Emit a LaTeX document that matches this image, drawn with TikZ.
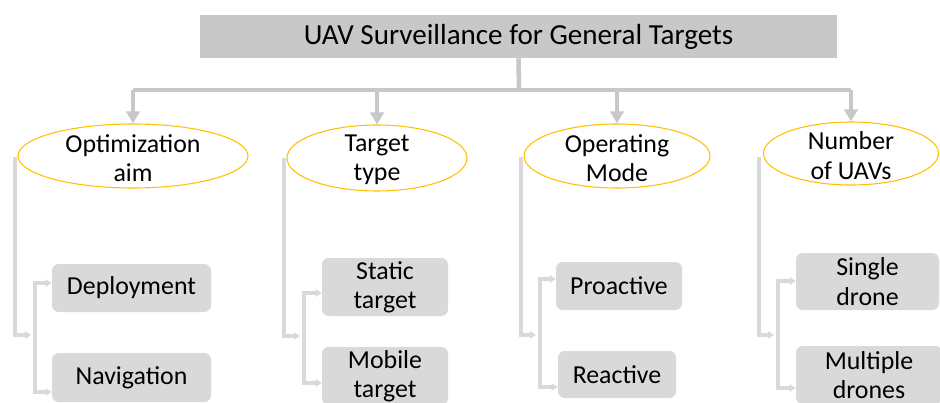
\documentclass[tikz,border=0pt]{standalone}
\usepackage{fontspec}
\setmainfont{Carlito}
\usetikzlibrary{shapes.geometric,arrows.meta}
\definecolor{topgray}{HTML}{C8C8C8}
\definecolor{boxgray}{HTML}{D9D9D9}
\definecolor{gold}{HTML}{FFC000}
\newcommand\pxu{0.75pt}
\begin{document}
\begin{tikzpicture}[x=0.75pt,y=-0.75pt,
 titlebox/.style={rectangle, fill=topgray, minimum width=637*\pxu, minimum height=43*\pxu, inner sep=0, font=\fontsize{21.8}{26}\selectfont},
 ell/.style={ellipse, draw=gold, line width=0.8pt, fill=white, inner sep=0},
 ellt/.style={align=center, font=\fontsize{19.4}{22}\selectfont, inner sep=0, yshift=-1.5pt},
 leaf/.style={rectangle, rounded corners=5pt, fill=boxgray, inner sep=0, align=center, font=\fontsize{19.4}{22}\selectfont},
 topline/.style={draw=topgray, line width=3.4pt},
 toparrow/.style={topline, -{Triangle[width=10pt,length=9pt]}},
 subline/.style={draw=boxgray, line width=3pt},
 subarrow/.style={subline, -{Triangle[width=5.5pt,length=4.5pt]}},
]
\useasboundingbox (0,0) rectangle (940,403);

% title
\node[titlebox] (t) at (518.5,36.5) {UAV Surveillance for General Targets};

% ellipses
\node[ell, minimum width=230*\pxu, minimum height=64*\pxu] (e1) at (133,156) {};
\node[ell, minimum width=180*\pxu, minimum height=66*\pxu] (e2) at (377,158) {};
\node[ell, minimum width=186*\pxu, minimum height=64*\pxu] (e3) at (617,156) {};
\node[ell, minimum width=175*\pxu, minimum height=63*\pxu] (e4) at (851,153.5) {};
\node[ellt] (l1) at (e1) {Optimization\\aim};
\node[ellt] (l2) at (e2) {Target\\type};
\node[ellt] (l3) at (e3) {Operating\\Mode};
\node[ellt] (l4) at (e4) {Number\\of UAVs};

% leaves
\node[leaf, minimum width=159*\pxu, minimum height=48*\pxu] (hi1) at (131.5,288) {Deployment};
\node[leaf, minimum width=159*\pxu, minimum height=49*\pxu] (lo1) at (131.5,377.5) {Navigation};
\node[leaf, minimum width=126*\pxu, minimum height=58*\pxu] (hi2) at (385,287) {Static\\target};
\node[leaf, minimum width=126*\pxu, minimum height=58*\pxu] (lo2) at (385,376) {Mobile\\target};
\node[leaf, minimum width=126*\pxu, minimum height=48*\pxu] (hi3) at (619,286) {Proactive};
\node[leaf, minimum width=118*\pxu, minimum height=47*\pxu] (lo3) at (617,374.5) {Reactive};
\node[leaf, minimum width=143*\pxu, minimum height=57*\pxu] (hi4) at (867.5,281.5) {Single\\drone};
\node[leaf, minimum width=146*\pxu, minimum height=58*\pxu] (lo4) at (869,375) {Multiple\\drones};

% top connectors
\coordinate (hj) at (519,90);
\draw[topline] (t.south) -- (hj);
\draw[topline] (e1.north |- hj) -- (e4.north |- hj);
\foreach \e in {e1,e2,e3,e4}{
  \draw[toparrow] (\e.north |- hj) -- (\e.north);
}

% sub connectors
\foreach \i/\sx/\sy/\ty/\tx/\bx/\ya/\yb in {1/15/157/335/31/35/283/392, 2/284/158/336/300/304/293/383, 3/521/157/335/536/540/279/387, 4/759/157/335/774/778/281/388}{
  \coordinate (s\i) at (\sx,\sy);
  \coordinate (k\i) at (\tx,\ty);
  \coordinate (j\i) at (\bx,\ty);
  \coordinate (ya\i) at (\bx,\ya);
  \coordinate (yb\i) at (\bx,\yb);
  \draw[subarrow] (s\i) |- (k\i);
  \draw[subarrow] (j\i) |- (hi\i.west |- ya\i);
  \draw[subarrow] (j\i) |- (lo\i.west |- yb\i);
}
\end{tikzpicture}
\end{document}
